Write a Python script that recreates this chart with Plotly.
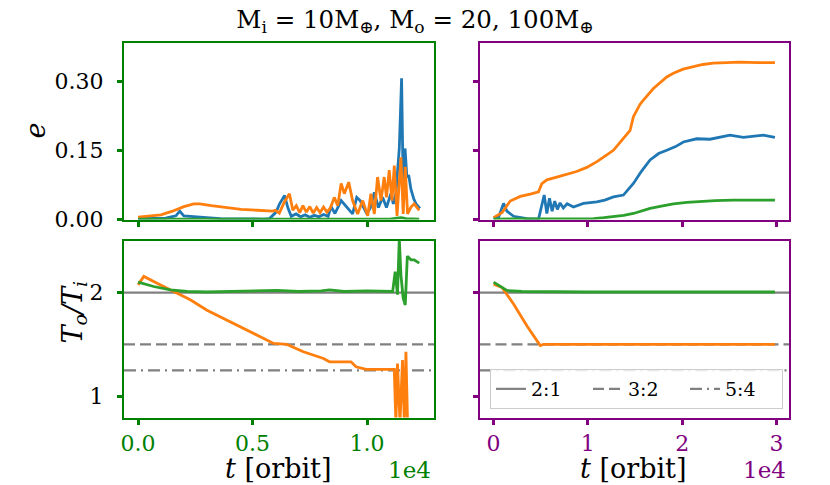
import plotly.graph_objects as go

# ---------------- data (t in orbits) ----------------
# Top-left: eccentricity, M_o = 20 M_earth
tl_blue_t = [0, 500, 1200, 1650, 1820, 2000, 2400, 3000, 3600, 4500,
             5500, 5740, 6030, 6180, 6400, 6540, 6690, 6900, 7100, 7300,
             7500, 7700, 7900, 8100, 8300, 8430, 8600, 8870, 9150, 9370,
             9550, 9700, 9990, 10150, 10320, 10500, 10680, 10850, 11040, 11150,
             11260, 11410, 11510, 11580, 11660, 11740, 11820, 11920, 12040, 12140,
             12310]
tl_blue_e = [0.002, 0.002, 0.003, 0.008, 0.018, 0.008, 0.006, 0.004, 0.002, 0.001,
             0.001, 0.002, 0.016, 0.034, 0.052, 0.026, 0.007, 0.012, 0.006, 0.010,
             0.005, 0.009, 0.006, 0.011, 0.007, 0.028, 0.013, 0.041, 0.026, 0.012,
             0.048, 0.041, 0.012, 0.026, 0.059, 0.026, 0.048, 0.026, 0.056, 0.034,
             0.056, 0.154, 0.306, 0.070, 0.154, 0.092, 0.096, 0.065, 0.045, 0.034,
             0.024]
tl_orange_t = [0, 500, 1000, 1500, 2000, 2430, 2700, 3200, 3800, 4500,
               5200, 5740, 5870, 6000, 6170, 6390, 6610, 6760, 6910, 7060,
               7200, 7350, 7500, 7650, 7800, 7950, 8100, 8250, 8400, 8570,
               8720, 8870, 9010, 9200, 9370, 9590, 9810, 10030, 10170, 10320,
               10460, 10610, 10750, 10850, 10970, 11090, 11190, 11310, 11480, 11580,
               11670, 11770, 11920, 12060, 12280]
tl_orange_e = [0.005, 0.007, 0.010, 0.018, 0.028, 0.034, 0.034, 0.030, 0.026, 0.022,
               0.020, 0.019, 0.018, 0.020, 0.014, 0.038, 0.056, 0.020, 0.030, 0.015,
               0.030, 0.016, 0.028, 0.014, 0.026, 0.015, 0.027, 0.016, 0.025, 0.048,
               0.030, 0.078, 0.056, 0.081, 0.041, 0.012, 0.041, 0.008, 0.056, 0.012,
               0.092, 0.041, 0.092, 0.048, 0.107, 0.041, 0.117, 0.008, 0.135, 0.012,
               0.114, 0.012, 0.027, 0.034, 0.020]
tl_green_t = [0, 3000, 6000, 9000, 11000, 11300, 11500, 11700, 12000, 12280]
tl_green_e = [0.001, 0.001, 0.001, 0.001, 0.001, 0.003, 0.004, 0.002, 0.001, 0.001]

# Top-right: eccentricity, M_o = 100 M_earth
tr_orange_t = [0, 890, 1770, 2830, 3900, 4770, 5120, 5650, 6700, 7780,
               8800, 9890, 11000, 12010, 12710, 13770, 14480, 14830, 15540, 15890,
               16950, 18370, 19070, 20100, 21190, 22200, 23300, 24700, 26130, 28000,
               29840]
tr_orange_e = [0.004, 0.015, 0.040, 0.050, 0.055, 0.060, 0.078, 0.086, 0.092, 0.098,
               0.104, 0.113, 0.126, 0.140, 0.150, 0.176, 0.193, 0.223, 0.250, 0.259,
               0.284, 0.309, 0.317, 0.326, 0.332, 0.336, 0.339, 0.340, 0.341, 0.340,
               0.340]
tr_blue_t = [0, 530, 1060, 1410, 2120, 3530, 4770, 5120, 5370, 5650,
             5930, 6210, 6490, 6770, 7050, 7400, 7800, 8470, 9530, 10940,
             11800, 12710, 13770, 14830, 15700, 16600, 17500, 18370, 19300, 20130,
             21540, 22950, 24000, 25070, 26490, 27500, 28600, 29840]
tr_blue_e = [0.003, 0.005, 0.035, 0.018, 0.007, 0.002, 0.001, 0.035, 0.053, 0.013,
             0.046, 0.018, 0.040, 0.022, 0.036, 0.025, 0.034, 0.027, 0.035, 0.038,
             0.042, 0.049, 0.053, 0.078, 0.105, 0.129, 0.143, 0.150, 0.158, 0.168,
             0.175, 0.174, 0.178, 0.183, 0.178, 0.181, 0.183, 0.178]
tr_green_t = [0, 3000, 6000, 9000, 10600, 11700, 12710, 13800, 14830, 15700,
              16600, 17800, 19070, 20500, 21900, 23500, 25420, 27500, 29840]
tr_green_e = [0.001, 0.001, 0.001, 0.001, 0.002, 0.004, 0.006, 0.009, 0.013, 0.019,
              0.024, 0.029, 0.034, 0.037, 0.039, 0.041, 0.042, 0.042, 0.042]

# Bottom-left: period ratio, M_o = 20 M_earth
bl_green_t = [0, 680, 1410, 2140, 3000, 4000, 5000, 6060, 7000, 8000,
              8360, 9000, 10000, 11000, 11120, 11230, 11330, 11410, 11480, 11580,
              11670, 11760, 11920, 12060, 12280]
bl_green_r = [2.10, 2.058, 2.025, 2.01, 2.005, 2.01, 2.01, 2.02, 2.01, 2.015,
              2.025, 2.01, 2.015, 2.01, 2.01, 2.20, 1.98, 2.52, 2.17, 1.945,
              1.88, 2.35, 2.315, 2.315, 2.283]
bl_orange_t = [0, 250, 830, 1560, 2280, 3010, 3740, 4460, 5190, 5920,
               6500, 6600, 7220, 8100, 8360, 9300, 9520, 9960, 11190, 11260,
               11330, 11440, 11550, 11630, 11700, 11770]
bl_orange_r = [2.074, 2.155, 2.09, 2.01, 1.93, 1.83, 1.75, 1.67, 1.59, 1.51,
               1.50, 1.49, 1.43, 1.365, 1.333, 1.333, 1.285, 1.26, 1.26, 0.75,
               1.316, 0.75, 1.35, 0.75, 1.43, 0.75]

# Bottom-right: period ratio, M_o = 100 M_earth
br_green_t = [0, 700, 1410, 3000, 6000, 10000, 15000, 20000, 25000, 29840]
br_green_r = [2.10, 2.06, 2.02, 2.01, 2.005, 2.005, 2.005, 2.005, 2.005, 2.005]
br_orange_t = [0, 890, 2120, 3530, 4950, 5300, 7000, 10000, 15000, 20000, 25000, 29840]
br_orange_r = [2.08, 2.05, 1.89, 1.68, 1.49, 1.50, 1.50, 1.50, 1.50, 1.50, 1.50, 1.50]

# Resonances
res_names = ["2:1", "3:2", "5:4"]
res_values = [2.0, 1.5, 1.25]
res_dashes = ["solid", "11px,5px", "12px,5px,2px,5px"]

left_ticks = [0, 5000, 10000]
left_ticktext = ["0.0", "0.5", "1.0"]
right_ticks = [0, 10000, 20000, 30000]
right_ticktext = ["0", "1", "2", "3"]
e_ticks = [0, 0.15, 0.30]
e_ticktext = ["0.00", "0.15", "0.30"]
r_ticks = [1, 2]
r_ticktext = ["1", "2"]

# ---------------- style ----------------
BLUE, ORANGE, GREEN = "#1f77b4", "#ff7f0e", "#2ca02c"
LC, RC = "#008000", "#800080"
GRAY = "#808080"
FONT = "DejaVu Serif"
LW = 2.8

left_max = max(max(tl_blue_t), max(tl_orange_t), max(bl_green_t))
right_max = max(max(tr_orange_t), max(br_green_t))
xr_left = [-0.05 * left_max, 1.05 * left_max]
xr_right = [-0.05 * right_max, 1.05 * right_max]
yr_e = [0.0, 0.3826]
yr_r = [0.797, 2.496]

fig = go.Figure()


def line(x, y, color, xa, ya, width=LW, dash="solid", name=None, legend=False):
    fig.add_trace(go.Scatter(x=x, y=y, mode="lines", xaxis=xa, yaxis=ya,
                             line=dict(color=color, width=width, dash=dash),
                             name=name, showlegend=legend, hoverinfo="skip"))


# resonance lines (bottom panels)
for nm, v, d in zip(res_names, res_values, res_dashes):
    line(xr_left, [v, v], GRAY, "x3", "y3", width=2.2, dash=d)
    line(xr_right, [v, v], GRAY, "x4", "y4", width=2.2, dash=d, name=nm, legend=True)

line(tl_blue_t, tl_blue_e, BLUE, "x", "y")
line(tl_orange_t, tl_orange_e, ORANGE, "x", "y")
line(tl_green_t, tl_green_e, GREEN, "x", "y")

line(tr_blue_t, tr_blue_e, BLUE, "x2", "y2")
line(tr_orange_t, tr_orange_e, ORANGE, "x2", "y2")
line(tr_green_t, tr_green_e, GREEN, "x2", "y2")

line(bl_orange_t, bl_orange_r, ORANGE, "x3", "y3")
line(bl_green_t, bl_green_r, GREEN, "x3", "y3")

line(br_orange_t, br_orange_r, ORANGE, "x4", "y4")
line(br_green_t, br_green_r, GREEN, "x4", "y4")

W, H = 830, 485
dxl = [124 / W, 434 / W]
dxr = [479.5 / W, 789 / W]
dyt = [1 - 219.5 / H, 1 - 43 / H]
dyb = [1 - 417.5 / H, 1 - 241 / H]

TICKSIZE = 22


def xax(dom, rng, tv, tt, col, anchor, labels):
    return dict(domain=dom, range=rng, anchor=anchor, tickvals=tv, ticktext=tt,
                showticklabels=labels, ticks="outside", ticklen=5, tickwidth=2.5,
                tickcolor=col, showline=True, linecolor=col, linewidth=2, mirror=True,
                showgrid=False, zeroline=False, automargin=False,
                tickfont=dict(family=FONT, size=TICKSIZE, color=col), ticklabelstandoff=0)


def yax(dom, rng, tv, tt, col, anchor, labels):
    return dict(domain=dom, range=rng, anchor=anchor, tickvals=tv, ticktext=tt,
                showticklabels=labels, ticks="outside", ticklen=5, tickwidth=2.5,
                tickcolor=col, showline=True, linecolor=col, linewidth=2, mirror=True,
                showgrid=False, zeroline=False, automargin=False,
                tickfont=dict(family=FONT, size=TICKSIZE, color="black"), ticklabelstandoff=9)


def inner(over, anchor, rng, tv, col):
    return dict(overlaying=over, anchor=anchor, range=rng, tickvals=tv,
                ticks="inside", ticklen=5, tickwidth=2.5, tickcolor=col,
                showticklabels=False, showline=False, showgrid=False,
                zeroline=False, automargin=False)


layout = dict(
    width=W, height=H, margin=dict(l=0, r=0, t=0, b=0),
    paper_bgcolor="white", plot_bgcolor="white", template="none",
    font=dict(family=FONT, color="black"),
    xaxis=xax(dxl, xr_left, left_ticks, left_ticktext, LC, "y", False),
    yaxis=yax(dyt, yr_e, e_ticks, e_ticktext, LC, "x", True),
    xaxis2=xax(dxr, xr_right, right_ticks, right_ticktext, RC, "y2", False),
    yaxis2=yax(dyt, yr_e, e_ticks, e_ticktext, RC, "x2", False),
    xaxis3=xax(dxl, xr_left, left_ticks, left_ticktext, LC, "y3", True),
    yaxis3=yax(dyb, yr_r, r_ticks, r_ticktext, LC, "x3", True),
    xaxis4=xax(dxr, xr_right, right_ticks, right_ticktext, RC, "y4", True),
    yaxis4=yax(dyb, yr_r, r_ticks, r_ticktext, RC, "x4", False),
    xaxis5=inner("x", "y", xr_left, left_ticks, LC),
    yaxis5=inner("y", "x", yr_e, e_ticks, LC),
    xaxis6=inner("x2", "y2", xr_right, right_ticks, RC),
    yaxis6=inner("y2", "x2", yr_e, e_ticks, RC),
    xaxis7=inner("x3", "y3", xr_left, left_ticks, LC),
    yaxis7=inner("y3", "x3", yr_r, r_ticks, LC),
    xaxis8=inner("x4", "y4", xr_right, right_ticks, RC),
    yaxis8=inner("y4", "x4", yr_r, r_ticks, RC),
    showlegend=True,
    legend=dict(orientation="h", x=490 / W, y=1 - 369 / H, xanchor="left", yanchor="top",
                bgcolor="rgba(255,255,255,0.85)", bordercolor="#cccccc", borderwidth=1,
                entrywidth=52, entrywidthmode="pixels",
                font=dict(family=FONT, size=19, color="black")),
    title=dict(text="M<sub>i</sub> = 10M<sub>⊕</sub>, M<sub>o</sub> = 20, 100M<sub>⊕</sub>",
               x=0.5, xanchor="center", y=1 - 19 / H, yanchor="middle", yref="container",
               font=dict(family=FONT, size=24.5, color="black")),
)
fig.update_layout(**layout)

ann = [
    dict(text="<i>e</i>", x=35.5 / W, y=1 - 131 / H, textangle=-90,
         font=dict(family=FONT, size=27, color="black")),
    dict(text="<i>T<sub>o</sub>/T<sub>i</sub></i>", x=73.5 / W, y=1 - 312 / H, textangle=-90,
         font=dict(family=FONT, size=27, color="black")),
    dict(text="<i>t</i> [orbit]", x=278 / W, y=0, yanchor="bottom", borderpad=0,
         font=dict(family=FONT, size=27, color="black")),
    dict(text="<i>t</i> [orbit]", x=633 / W, y=0, yanchor="bottom", borderpad=0,
         font=dict(family=FONT, size=27, color="black")),
    dict(text="1e4", x=433 / W, y=1 - 470 / H, xanchor="right",
         font=dict(family=FONT, size=23, color=LC)),
    dict(text="1e4", x=788 / W, y=1 - 470 / H, xanchor="right",
         font=dict(family=FONT, size=23, color=RC)),
]
for a in ann:
    a.update(xref="paper", yref="paper", showarrow=False)
    a.setdefault("xanchor", "center")
    a.setdefault("yanchor", "middle")
fig.update_layout(annotations=ann)

fig.write_html("out.html", config={"displayModeBar": False},
               post_script="document.body.style.margin='0';document.body.style.overflow='hidden';")
